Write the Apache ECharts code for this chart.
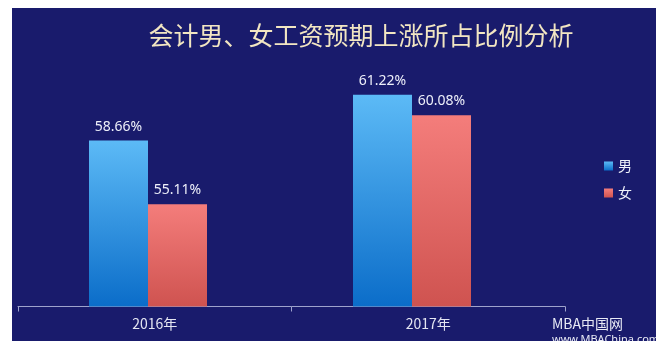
<!DOCTYPE html>
<html><head><meta charset="utf-8">
<script src="https://cdn.jsdelivr.net/npm/echarts@6/dist/echarts.min.js"></script>
<style>html,body{margin:0;padding:0;background:#fff;}#c{width:668px;height:349px;}</style>
</head><body><div id="c"></div>
<script>
var categories = ['2016年', '2017年'];
var seriesNames = ['男', '女'];
var maleValues = [58.66, 61.22];
var femaleValues = [55.11, 60.08];
var titleText = '会计男、女工资预期上涨所占比例分析';

var chart = echarts.init(document.getElementById('c'));
var grad = function (a, b) {
  return new echarts.graphic.LinearGradient(0, 0, 0, 1, [{offset: 0, color: a}, {offset: 1, color: b}]);
};
var labelStyle = {show: true, position: 'top', distance: 7, color: '#eef0fa', fontSize: 14,
  fontFamily: 'Noto Sans', formatter: function (p) { return p.value.toFixed(2) + '%'; }};
chart.setOption({
  backgroundColor: '#ffffff',
  animation: false,
  title: {text: titleText, left: 356, textAlign: 'center', top: 18,
    textStyle: {color: '#f2e6c2', fontSize: 25, fontWeight: 'normal', fontFamily: 'Noto Sans CJK SC'}},
  legend: {orient: 'vertical', left: 599, top: 154, itemWidth: 9, itemHeight: 9, itemGap: 13,
    icon: 'rect', data: seriesNames,
    textStyle: {color: '#f0f2fa', fontSize: 14, fontFamily: 'Noto Sans CJK SC'}},
  graphic: [
    {type: 'rect', shape: {x: 12, y: 8, width: 644, height: 333}, style: {fill: '#191b6c'}, z: -10},
    {type: 'text', left: 552, top: 317, style: {text: 'MBA中国网', fill: '#e8eaf5', font: '14px "Noto Sans CJK SC"'}, z: 10},
    {type: 'text', left: 552, top: 334, style: {text: 'www.MBAChina.com', fill: '#e8eaf5', font: '11px "Noto Sans"'}, z: 10},
    {type: 'rect', shape: {x: 0, y: 341, width: 668, height: 8}, style: {fill: '#ffffff'}, z: 20},
    {type: 'rect', shape: {x: 656, y: 0, width: 12, height: 349}, style: {fill: '#ffffff'}, z: 20}
  ],
  grid: [
    {left: 16, right: 124, top: 27, bottom: 42.5},
    {left: 18, right: 103, top: 27, bottom: 42.5}
  ],
  xAxis: [
    {type: 'category', gridIndex: 0, data: categories, show: false},
    {type: 'category', gridIndex: 1, data: categories,
      axisLine: {show: true, lineStyle: {color: '#9ea3cc', width: 1}},
      axisTick: {show: true, length: 5, lineStyle: {color: '#9ea3cc'}},
      axisLabel: {color: '#e4e6f2', fontSize: 14, margin: 10, fontFamily: 'Noto Sans CJK SC'}}
  ],
  yAxis: [
    {type: 'value', gridIndex: 0, min: 49.4, max: 65, show: false, splitLine: {show: false}},
    {type: 'value', gridIndex: 1, show: false, splitLine: {show: false}}
  ],
  series: [
    {name: seriesNames[0], type: 'bar', xAxisIndex: 0, yAxisIndex: 0, data: maleValues,
      barWidth: 59, barGap: '0%', itemStyle: {color: grad('#5cbaf6', '#0b6dc9')}, label: labelStyle},
    {name: seriesNames[1], type: 'bar', xAxisIndex: 0, yAxisIndex: 0, data: femaleValues,
      barWidth: 59, barGap: '0%', itemStyle: {color: grad('#f47d7b', '#cf5350')}, label: labelStyle}
  ]
});
</script></body></html>
